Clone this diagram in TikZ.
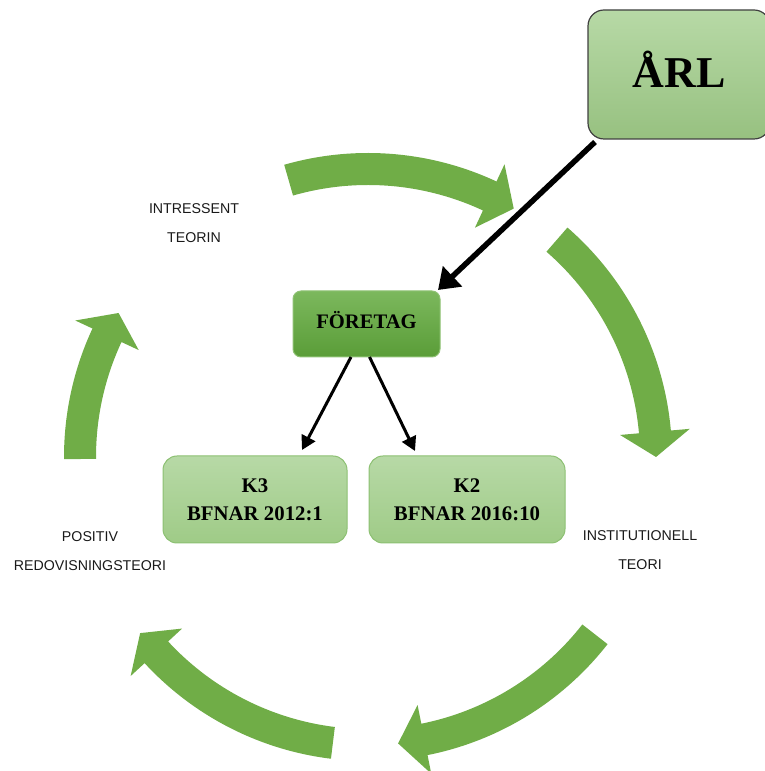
\documentclass[tikz,border=0pt]{standalone}
\usepackage{fontspec}
\setmainfont{Liberation Serif}
\newfontfamily\lsans{Liberation Sans}
\usetikzlibrary{arrows.meta}
\definecolor{arrowgreen}{HTML}{70AD47}
\definecolor{lighttop}{HTML}{B7D9A6}
\definecolor{lightbot}{HTML}{9FCB87}
\definecolor{lightedge}{HTML}{8CC072}
\definecolor{darktop}{HTML}{7CB85D}
\definecolor{darkbot}{HTML}{5A9D38}
\definecolor{darkedge}{HTML}{8FC274}
\newcommand\grarrow[3]{% start angle, head-base angle, tip angle
  \fill[arrowgreen] (#1:304) arc[start angle=#1,end angle=#2,radius=304]
    -- (#2:323) -- (#3:288) -- (#2:253) -- (#2:272)
    arc[start angle=#2,end angle=#1,radius=272] -- cycle;}
\tikzset{
  boxlight/.style={draw=lightedge, line width=1pt, top color=lighttop, bottom color=lightbot,
    rounded corners=14pt, inner sep=0pt, outer sep=0pt, align=center,
    font=\fontsize{20.8}{28}\selectfont\bfseries},
  lbl/.style={align=center, inner sep=0pt, text=black!90, font=\lsans\fontsize{14.2}{28.5}\selectfont},
  bigarrow/.style={line width=5.5pt, -{Triangle[length=20pt,width=27pt]}},
  smallarrow/.style={line width=3pt, -{Triangle[length=14pt,width=15pt]}}
}
\begin{document}
\begin{tikzpicture}[x=1pt,y=1pt]
\useasboundingbox (0,0) rectangle (764,771);
% circular green arrows
\begin{scope}[shift={(368,314)}]
  \grarrow{106}{65}{59.6}
  \grarrow{49}{5}{0}
  \grarrow{-38}{-78.7}{-84}
  \grarrow{-97}{-137.3}{-142.3}
  \grarrow{180.4}{155}{150}
\end{scope}
% boxes
\node[draw=black!75, line width=1.2pt, top color=lighttop, bottom color=lightbot!95!black,
  rounded corners=16pt, inner sep=0pt, outer sep=0pt, minimum width=182pt, minimum height=129pt,
  text height=27pt, text depth=0pt, font=\fontsize{44}{50}\selectfont\bfseries]
  (arl) at (679,696.5) {ÅRL};
\node[draw=darkedge, line width=1pt, top color=darktop, bottom color=darkbot,
  rounded corners=8pt, inner sep=0pt, outer sep=0pt, minimum width=147pt, minimum height=66pt,
  text height=10pt, text depth=0pt, font=\fontsize{20.6}{24}\selectfont\bfseries]
  (foretag) at (366.5,447) {FÖRETAG};
\node[boxlight, minimum width=184pt, minimum height=87pt] (k3) at (255,271.5) {K3\\BFNAR 2012:1};
\node[boxlight, minimum width=196pt, minimum height=87pt] (k2) at (467,271.5) {K2\\BFNAR 2016:10};
% labels
\node[lbl] (intr) at (194,547.75) {INTRESSENT\\TEORIN};
\node[lbl] (inst) at (640,221) {INSTITUTIONELL\\TEORI};
\node[lbl] (posi) at (90,220) {POSITIV\\REDOVISNINGSTEORI};
% black arrows
\draw[bigarrow] ([xshift=7pt,yshift=-3pt]arl.south west) -- ([xshift=-2pt,yshift=1pt]foretag.north east);
\draw[smallarrow] ([xshift=-15.5pt]foretag.south) -- ([xshift=47pt,yshift=6pt]k3.north);
\draw[smallarrow] ([xshift=3pt]foretag.south) -- ([xshift=-52pt,yshift=5pt]k2.north);
\end{tikzpicture}
\end{document}
